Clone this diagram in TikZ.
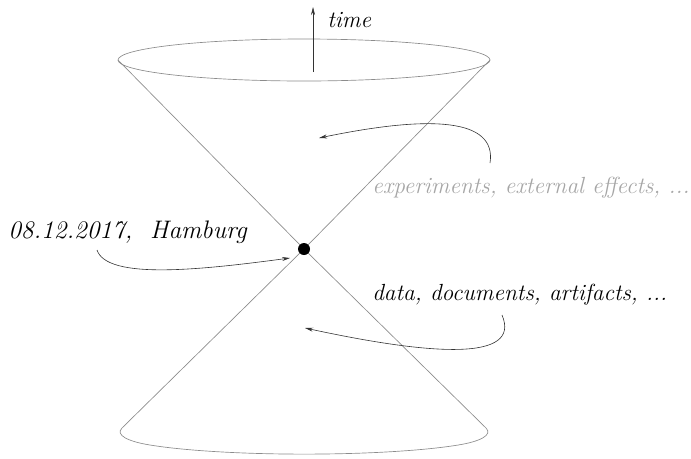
\documentclass[tikz,border=0pt]{standalone}
\usetikzlibrary{arrows.meta}
\begin{document}
\begin{tikzpicture}[x=0.75pt,y=-0.75pt,
  cone/.style={draw=black!45,line width=0.5pt},
  pointer/.style={draw=black!80,line width=0.45pt,-{Stealth[length=6pt,width=3pt]}},
  lbl/.style={font=\itshape\fontsize{17.5}{20}\selectfont,inner sep=0pt,anchor=base west}]
\useasboundingbox (0,0) rectangle (691,458);
\coordinate (c) at (304,249);
\coordinate (tl) at (118,60);
\coordinate (tr) at (490,60);
% top ellipse
\draw[cone] (304,60) ellipse [x radius=186, y radius=21];
\draw[cone] (tl) -- (c) -- (tr);
% bottom cone
\draw[cone] (c) -- (122,428) .. controls (115,435) and (128,441.5) .. (150,445)
  arc[start angle=145.5,end angle=34.5,x radius=187,y radius=21]
  .. controls (480,441.5) and (493,435) .. (486,428) -- (c);
% time arrow
\coordinate (t0) at (313,72);
\coordinate (t1) at (313,7);
\draw[pointer] (t0) -- (t1);
\node[lbl] (time) at (327,27) {time};
% center event
\node[circle,fill=black,inner sep=0pt,minimum size=9pt] (ev) at (c) {};
\node[lbl] (date) at (8,238) {\fontsize{19}{22}\selectfont 08.12.2017,\ \ Hamburg};
\node[lbl,text=black!35] (exp) at (372,193) {experiments, external effects, ...};
\node[lbl] (data) at (372,300) {data, documents, artifacts, ...};
% pointers
\coordinate (a1s) at (490,163);
\coordinate (a1e) at (319,138);
\draw[pointer] (a1s) .. controls (497,118) and (430,115) .. (a1e);
\coordinate (a2s) at (502,315);
\coordinate (a2e) at (305,328);
\draw[pointer] (a2s) .. controls (522,362) and (430,355) .. (a2e);
\coordinate (a3s) at (97,250);
\coordinate (a3e) at (290,258);
\draw[pointer] (a3s) .. controls (107,280) and (200,270) .. (a3e);
\end{tikzpicture}
\end{document}
